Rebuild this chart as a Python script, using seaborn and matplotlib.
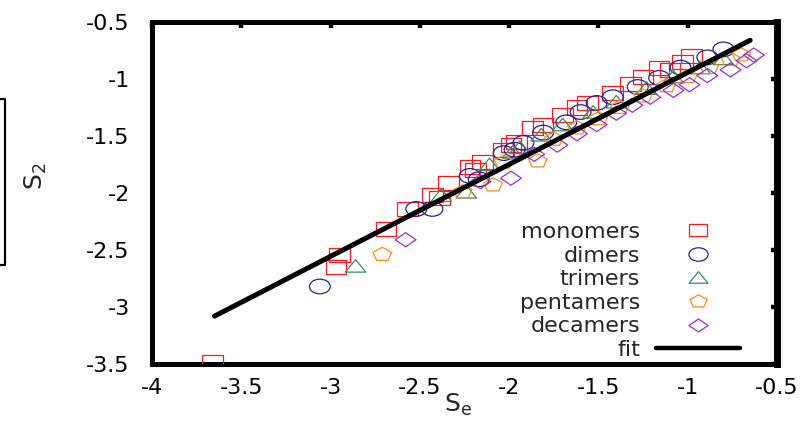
import numpy as np
import pandas as pd
import matplotlib
matplotlib.use("Agg")
import matplotlib.pyplot as plt
import seaborn as sns
from matplotlib.path import Path
from matplotlib.transforms import Affine2D
from matplotlib.lines import Line2D
from matplotlib.ticker import FuncFormatter

# ---------------- data ----------------
mono_x = [-3.66, -2.97, -2.95, -2.69, -2.57, -2.43, -2.39, -2.34, -2.22, -2.19, -2.15,
          -2.03, -1.99, -1.96, -1.87, -1.81, -1.70, -1.62, -1.56, -1.42, -1.32, -1.25,
          -1.16, -1.10, -1.03, -0.98]
mono_y = [-3.48, -2.65, -2.54, -2.32, -2.14, -2.02, -2.04, -1.91, -1.77, -1.80, -1.73,
          -1.62, -1.58, -1.55, -1.43, -1.40, -1.32, -1.25, -1.21, -1.12, -1.04, -0.98,
          -0.90, -0.92, -0.85, -0.80]

dim_x = [-3.06, -2.52, -2.43, -2.22, -2.17, -2.03, -1.97, -1.92, -1.81, -1.68, -1.60,
         -1.51, -1.42, -1.28, -1.16, -1.04, -0.89, -0.80]
dim_y = [-2.82, -2.14, -2.14, -1.85, -1.88, -1.65, -1.62, -1.56, -1.47, -1.38, -1.29,
         -1.21, -1.16, -1.07, -0.99, -0.90, -0.81, -0.74]

tri_x = [-2.86, -2.38, -2.24, -2.11, -1.98, -1.94, -1.82, -1.70, -1.53, -1.40, -1.23,
         -1.08, -0.93, -0.80]
tri_y = [-2.64, -2.02, -1.99, -1.75, -1.64, -1.60, -1.49, -1.40, -1.29, -1.20, -1.08,
         -0.98, -0.90, -0.82]

pent_x = [-2.71, -2.26, -2.09, -2.03, -1.84, -1.75, -1.62, -1.50, -1.38, -1.25, -1.12,
          -1.00, -0.88, -0.76, -0.70]
pent_y = [-2.54, -1.99, -1.93, -1.73, -1.72, -1.53, -1.43, -1.35, -1.25, -1.15, -1.06,
          -0.98, -0.90, -0.83, -0.79]

dec_x = [-2.58, -2.16, -1.99, -1.86, -1.73, -1.62, -1.51, -1.40, -1.31, -1.21, -1.08,
         -0.99, -0.89, -0.76, -0.67, -0.63]
dec_y = [-2.41, -1.90, -1.87, -1.66, -1.58, -1.48, -1.40, -1.30, -1.23, -1.16, -1.10,
         -1.05, -0.97, -0.92, -0.84, -0.79]

fit_x = [-3.65, -0.65]
fit_y = [-3.08, -0.66]

labels = ["monomers", "dimers", "trimers", "pentamers", "decamers"]
colors = ["#ff1a1a", "#22229a", "#3a8a5c", "#ff8c1a", "#9932cc"]

x_ticks = [-4, -3.5, -3, -2.5, -2, -1.5, -1, -0.5]
y_ticks = [-3.5, -3, -2.5, -2, -1.5, -1, -0.5]

# ---------------- style ----------------
sns.set_style("white")
plt.rcParams["font.family"] = ["DejaVu Sans"]
plt.rcParams["axes.unicode_minus"] = False
plt.rcParams["mathtext.default"] = "regular"

# stretched (wide) open markers like the reference
sq = Path([(-1, -0.68), (1, -0.68), (1, 0.68), (-1, 0.68), (-1, -0.68)],
          [Path.MOVETO, Path.LINETO, Path.LINETO, Path.LINETO, Path.CLOSEPOLY])
circ = Path.unit_circle().transformed(Affine2D().scale(1.0, 0.7))
tri = Path([(-1, -0.6), (1, -0.6), (0, 0.62), (-1, -0.6)],
           [Path.MOVETO, Path.LINETO, Path.LINETO, Path.CLOSEPOLY])
ang = np.deg2rad(90 + 72 * np.arange(5))
pv = np.column_stack([1.35 * np.cos(ang), np.sin(ang)])
pv = np.vstack([pv, pv[:1]])
pent = Path(pv, [Path.MOVETO] + [Path.LINETO] * 4 + [Path.CLOSEPOLY])
dia = Path([(-1, 0), (0, 0.68), (1, 0), (0, -0.68), (-1, 0)],
           [Path.MOVETO, Path.LINETO, Path.LINETO, Path.LINETO, Path.CLOSEPOLY])
markers = [sq, circ, tri, pent, dia]
sizes = [220, 225, 220, 180, 225]

W, H = 806, 422
fig = plt.figure(figsize=(W / 100, H / 100), dpi=100)
ax = fig.add_axes([152 / W, 1 - 364 / H, (777 - 152) / W, (364 - 22) / H])

series = [(mono_x, mono_y), (dim_x, dim_y), (tri_x, tri_y), (pent_x, pent_y), (dec_x, dec_y)]
handles = []
for (xs, ys), lab, col, mk, s in zip(series, labels, colors, markers, sizes):
    df = pd.DataFrame({"Se": xs, "S2": ys})
    sns.scatterplot(data=df, x="Se", y="S2", ax=ax, marker=mk, s=s,
                    facecolor="none", edgecolor=col, linewidth=0.9, legend=False,
                    zorder=3)
    handles.append(Line2D([], [], linestyle="none", marker=mk, markersize=np.sqrt(s) * 0.92,
                          markerfacecolor="none", markeredgecolor=col, markeredgewidth=0.9,
                          label=lab))

fit_df = pd.DataFrame({"Se": fit_x, "S2": fit_y})
sns.lineplot(data=fit_df, x="Se", y="S2", ax=ax, color="black", linewidth=3.6,
             legend=False, zorder=4)
handles.append(Line2D([], [], color="black", linewidth=3.2, label="fit"))

ax.set_xlim(-4, -0.5)
ax.set_ylim(-3.5, -0.5)
ax.set_xticks(x_ticks)
ax.set_yticks(y_ticks)
fmt = FuncFormatter(lambda v, p: "%g" % v)
ax.xaxis.set_major_formatter(fmt)
ax.yaxis.set_major_formatter(fmt)

for side in ["left", "bottom", "top"]:
    ax.spines[side].set_linewidth(3.6)
    ax.spines[side].set_color("black")
ax.spines["right"].set_linewidth(5.0)
ax.spines["right"].set_color("black")

ax.tick_params(axis="both", which="major", direction="in", length=4, width=3.2,
               top=True, right=True, labelsize=16, colors="black")
ax.tick_params(axis="y", pad=16)
ax.tick_params(axis="x", pad=10)

ax.set_xlabel(r"$S_e$", fontsize=18)
ax.set_ylabel(r"$S_2$", fontsize=18)
ax.xaxis.set_label_coords(0.49, -0.08)
ax.yaxis.set_label_coords(-0.165, 0.55)

leg = ax.legend(handles=handles, loc="lower right", bbox_to_anchor=(0.941, 0.012),
                frameon=False, fontsize=16, markerfirst=False, handlelength=3.8,
                handletextpad=0.7, labelspacing=0.16, borderpad=0, borderaxespad=0)
try:
    for col in leg._legend_handle_box.get_children():
        col.align = "right"
except Exception:
    pass

# partial frame fragment at the left edge of the reference
fig.add_artist(Line2D([0 / W, 5 / W, 5 / W, 0 / W],
                      [1 - 99 / H, 1 - 99 / H, 1 - 265 / H, 1 - 265 / H],
                      transform=fig.transFigure, color="black", linewidth=1.6))

fig.savefig("out.png", dpi=100)
